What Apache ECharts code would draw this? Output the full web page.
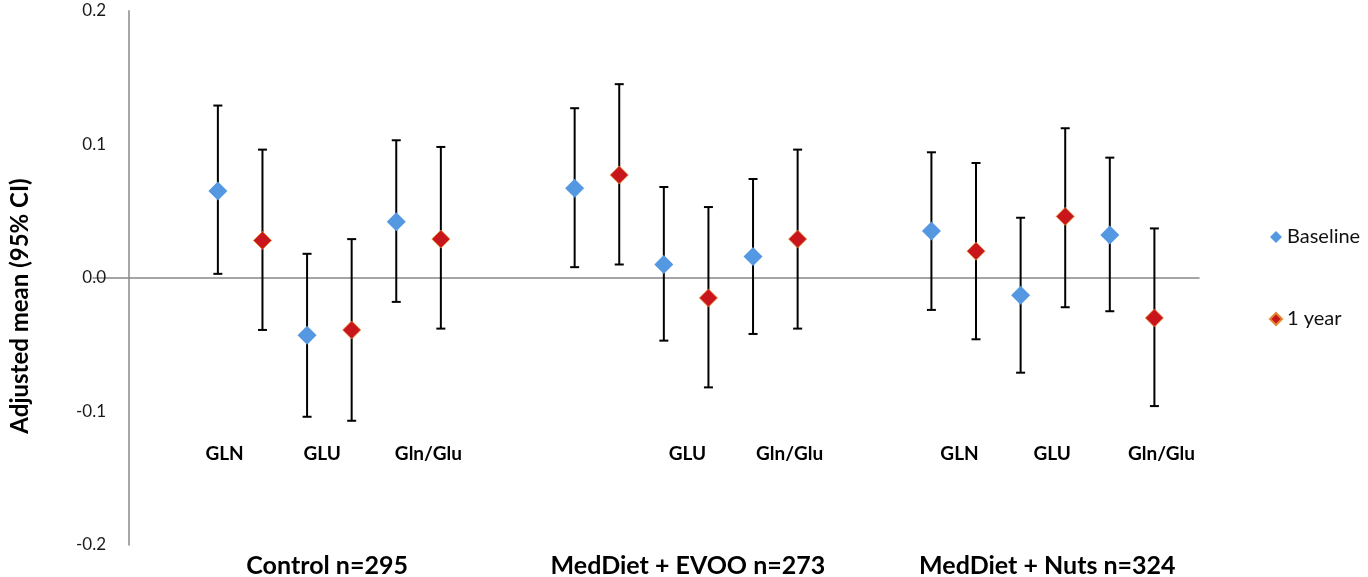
<!DOCTYPE html>
<html><head><meta charset="utf-8">
<script src="https://cdn.jsdelivr.net/npm/echarts@6/dist/echarts.min.js"></script>
<style>html,body{margin:0;padding:0;background:#fff}#c{width:1368px;height:577px}</style>
</head><body><div id="c"></div>
<script>
// ---- data ----
const groupLabels = ['Control n=295', 'MedDiet + EVOO n=273', 'MedDiet + Nuts n=324'];
const metaboliteLabels = ['GLN', 'GLU', 'Gln/Glu', 'GLU', 'Gln/Glu', 'GLN', 'GLU', 'Gln/Glu'];
const yTickLabels = ['-0.2', '-0.1', '0.0', '0.1', '0.2'];
const seriesNames = ['Baseline', '1 year'];
const slotBaseline = [2, 4, 6, 10, 12, 14, 18, 20, 22];
const slotYear = [3, 5, 7, 11, 13, 15, 19, 21, 23];
const baselineMean = [0.065, -0.043, 0.042, 0.067, 0.010, 0.016, 0.035, -0.013, 0.032];
const baselineLow  = [0.003, -0.104, -0.018, 0.008, -0.047, -0.042, -0.024, -0.071, -0.025];
const baselineHigh = [0.129, 0.018, 0.103, 0.127, 0.068, 0.074, 0.094, 0.045, 0.090];
const yearMean = [0.028, -0.039, 0.029, 0.077, -0.015, 0.029, 0.020, 0.046, -0.030];
const yearLow  = [-0.039, -0.107, -0.038, 0.010, -0.082, -0.038, -0.046, -0.022, -0.096];
const yearHigh = [0.096, 0.029, 0.098, 0.145, 0.053, 0.096, 0.086, 0.112, 0.037];

// ---- layout (positions in axis units) ----
const layout = {
  metaboliteX: [2.15, 4.34, 6.72, 12.53, 14.82, 18.63, 20.71, 23.16],
  metaboliteY: -0.132,
  groupX: [4.45, 12.54, 20.6],
  groupY: -0.216
};

const blue = '#5598E2', red = '#C9161C';
const font = 'Lato, "Open Sans", sans-serif';

const chart = echarts.init(document.getElementById('c'), null, {renderer: 'canvas'});

function errData(slots, lo, hi) { return slots.map((s, i) => [s, lo[i], hi[i]]); }
function ptData(slots, m) { return slots.map((s, i) => [s, m[i]]); }

function renderErr(params, api) {
  const x = api.value(0), lo = api.value(1), hi = api.value(2);
  const a = api.coord([x, lo]), b = api.coord([x, hi]);
  const hw = 4.5;
  const st = {stroke: '#000', lineWidth: 2};
  return {type: 'group', children: [
    {type: 'line', shape: {x1: a[0], y1: a[1], x2: b[0], y2: b[1]}, style: st},
    {type: 'line', shape: {x1: a[0] - hw, y1: a[1], x2: a[0] + hw, y2: a[1]}, style: st},
    {type: 'line', shape: {x1: b[0] - hw, y1: b[1], x2: b[0] + hw, y2: b[1]}, style: st}
  ]};
}

const option = {
  animation: false,
  backgroundColor: '#fff',
  grid: {left: 93, right: 169, top: 10.7, bottom: 32, containLabel: false},
  xAxis: {
    type: 'value', min: -0.8, max: 24,
    axisLine: {onZero: true, lineStyle: {color: '#888', width: 1.5}},
    axisTick: {show: false}, axisLabel: {show: false}, splitLine: {show: false}
  },
  yAxis: {
    type: 'value', min: -0.2, max: 0.2, interval: 0.1,
    axisLine: {show: true, onZero: true, lineStyle: {color: '#888', width: 1.5}},
    axisTick: {show: false}, splitLine: {show: false},
    axisLabel: {
      margin: -13, color: '#1a1a1a', fontFamily: font, fontSize: 17,
      formatter: (v) => yTickLabels[Math.round((v + 0.2) / 0.1)]
    }
  },
  legend: {
    data: [{name: seriesNames[0], icon: 'diamond'}, {name: seriesNames[1], icon: 'diamond'}],
    orient: 'vertical', left: 1264, top: 222, itemGap: 62,
    itemWidth: 12, itemHeight: 12,
    textStyle: {color: '#111', fontFamily: font, fontSize: 20, padding: [0, 0, 0, 0]}
  },
  series: [
    {name: seriesNames[0] + ' CI', type: 'custom', renderItem: renderErr,
     encode: {x: 0, y: [1, 2]}, data: errData(slotBaseline, baselineLow, baselineHigh), z: 2},
    {name: seriesNames[1] + ' CI', type: 'custom', renderItem: renderErr,
     encode: {x: 0, y: [1, 2]}, data: errData(slotYear, yearLow, yearHigh), z: 2},
    {name: seriesNames[0], type: 'scatter', symbol: 'diamond', symbolSize: 19,
     itemStyle: {color: blue, opacity: 1}, data: ptData(slotBaseline, baselineMean), z: 5},
    {name: seriesNames[1], type: 'scatter', symbol: 'diamond', symbolSize: 18,
     itemStyle: {color: red, borderColor: '#E3872E', borderWidth: 0.8, opacity: 1},
     data: ptData(slotYear, yearMean), z: 5}
  ]
};
chart.setOption(option);

// text labels placed through the chart's own coordinate system
const g = [];
metaboliteLabels.forEach((t, i) => {
  const p = chart.convertToPixel({gridIndex: 0}, [layout.metaboliteX[i], layout.metaboliteY]);
  g.push({type: 'text', x: p[0], y: p[1], style: {text: t, fill: '#000',
    font: 'bold 19px ' + font, textAlign: 'center', textVerticalAlign: 'middle'}});
});
groupLabels.forEach((t, i) => {
  const p = chart.convertToPixel({gridIndex: 0}, [layout.groupX[i], layout.groupY]);
  g.push({type: 'text', x: p[0], y: p[1], style: {text: t, fill: '#000',
    font: 'bold 25px ' + font, textAlign: 'center', textVerticalAlign: 'middle'}});
});
g.push({type: 'text', x: 20, y: 306, rotation: Math.PI / 2,
  style: {text: 'Adjusted mean (95% CI)', fill: '#000', font: 'bold 24px ' + font,
    textAlign: 'center', textVerticalAlign: 'middle'}});
chart.setOption({graphic: g});
</script>
</body></html>
